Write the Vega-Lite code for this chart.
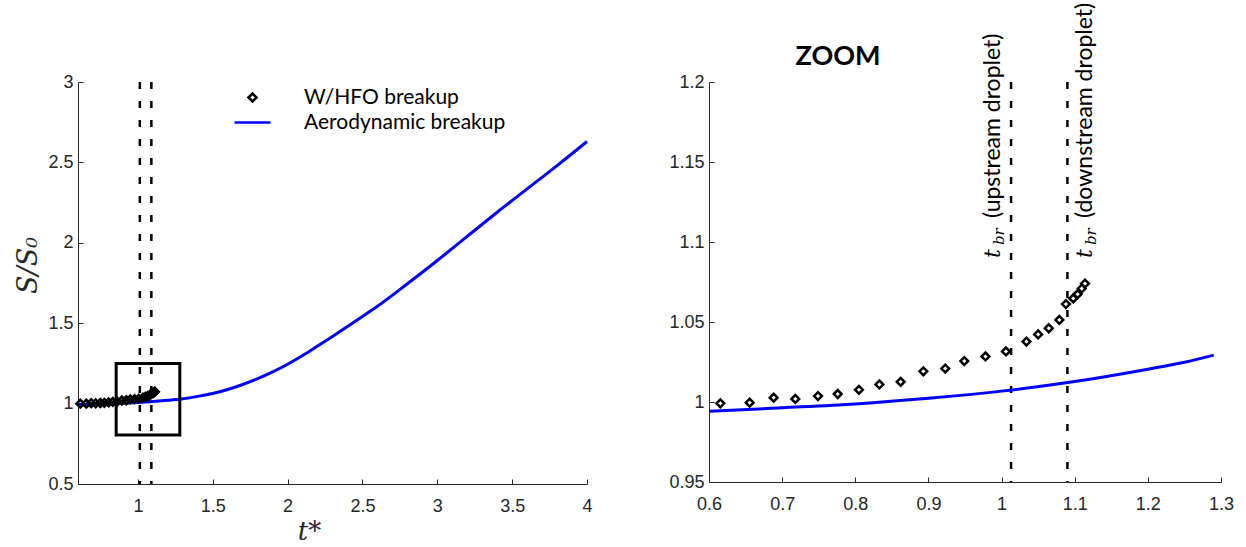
{
  "$schema": "https://vega.github.io/schema/vega-lite/v6.json",
  "autosize": {"type": "pad"},
  "padding": {"left": 14, "top": 2, "right": 0, "bottom": 0},
  "bounds": "flush",
  "spacing": 122,
  "background": "white",
  "config": {
    "view": {"stroke": null},
    "axis": {
      "grid": false,
      "domainColor": "#262626",
      "domainWidth": 1,
      "tickColor": "#262626",
      "tickWidth": 1,
      "tickSize": -5,
      "labelFont": "Liberation Sans",
      "labelFontSize": 18,
      "labelColor": "#262626",
      "labelFlush": false,
      "labelOverlap": false
    },
    "axisX": {"labelPadding": 18},
    "axisY": {"labelPadding": 10}
  },
  "datasets": {
    "aero": [
      {"t": 0.6, "s": 0.9942, "series": "Aerodynamic breakup"},
      {"t": 0.7, "s": 0.9964, "series": "Aerodynamic breakup"},
      {"t": 0.8, "s": 0.9988, "series": "Aerodynamic breakup"},
      {"t": 0.9, "s": 1.0023, "series": "Aerodynamic breakup"},
      {"t": 1.0, "s": 1.0068, "series": "Aerodynamic breakup"},
      {"t": 1.1, "s": 1.0128, "series": "Aerodynamic breakup"},
      {"t": 1.2, "s": 1.0205, "series": "Aerodynamic breakup"},
      {"t": 1.25, "s": 1.0248, "series": "Aerodynamic breakup"},
      {"t": 1.29, "s": 1.0293, "series": "Aerodynamic breakup"},
      {"t": 1.4, "s": 1.045, "series": "Aerodynamic breakup"},
      {"t": 1.5, "s": 1.063, "series": "Aerodynamic breakup"},
      {"t": 1.6, "s": 1.088, "series": "Aerodynamic breakup"},
      {"t": 1.7, "s": 1.119, "series": "Aerodynamic breakup"},
      {"t": 1.8, "s": 1.155, "series": "Aerodynamic breakup"},
      {"t": 1.9, "s": 1.197, "series": "Aerodynamic breakup"},
      {"t": 2.0, "s": 1.245, "series": "Aerodynamic breakup"},
      {"t": 2.1, "s": 1.299, "series": "Aerodynamic breakup"},
      {"t": 2.2, "s": 1.358, "series": "Aerodynamic breakup"},
      {"t": 2.3, "s": 1.418, "series": "Aerodynamic breakup"},
      {"t": 2.4, "s": 1.48, "series": "Aerodynamic breakup"},
      {"t": 2.5, "s": 1.542, "series": "Aerodynamic breakup"},
      {"t": 2.6, "s": 1.605, "series": "Aerodynamic breakup"},
      {"t": 2.8, "s": 1.745, "series": "Aerodynamic breakup"},
      {"t": 3.0, "s": 1.89, "series": "Aerodynamic breakup"},
      {"t": 3.2, "s": 2.04, "series": "Aerodynamic breakup"},
      {"t": 3.4, "s": 2.19, "series": "Aerodynamic breakup"},
      {"t": 3.6, "s": 2.335, "series": "Aerodynamic breakup"},
      {"t": 3.8, "s": 2.48, "series": "Aerodynamic breakup"},
      {"t": 4.0, "s": 2.63, "series": "Aerodynamic breakup"}
    ],
    "hfo": [
      {"t": 0.6155, "s": 0.9992, "series": "W/HFO breakup"},
      {"t": 0.6556, "s": 0.9996, "series": "W/HFO breakup"},
      {"t": 0.6884, "s": 1.0027, "series": "W/HFO breakup"},
      {"t": 0.718, "s": 1.0019, "series": "W/HFO breakup"},
      {"t": 0.749, "s": 1.0037, "series": "W/HFO breakup"},
      {"t": 0.776, "s": 1.005, "series": "W/HFO breakup"},
      {"t": 0.805, "s": 1.0076, "series": "W/HFO breakup"},
      {"t": 0.833, "s": 1.011, "series": "W/HFO breakup"},
      {"t": 0.862, "s": 1.0126, "series": "W/HFO breakup"},
      {"t": 0.893, "s": 1.0192, "series": "W/HFO breakup"},
      {"t": 0.923, "s": 1.0209, "series": "W/HFO breakup"},
      {"t": 0.949, "s": 1.0256, "series": "W/HFO breakup"},
      {"t": 0.978, "s": 1.0285, "series": "W/HFO breakup"},
      {"t": 1.006, "s": 1.0316, "series": "W/HFO breakup"},
      {"t": 1.034, "s": 1.0378, "series": "W/HFO breakup"},
      {"t": 1.05, "s": 1.0422, "series": "W/HFO breakup"},
      {"t": 1.0645, "s": 1.0461, "series": "W/HFO breakup"},
      {"t": 1.079, "s": 1.0513, "series": "W/HFO breakup"},
      {"t": 1.088, "s": 1.0612, "series": "W/HFO breakup"},
      {"t": 1.098, "s": 1.0647, "series": "W/HFO breakup"},
      {"t": 1.104, "s": 1.0674, "series": "W/HFO breakup"},
      {"t": 1.1096, "s": 1.0709, "series": "W/HFO breakup"},
      {"t": 1.114, "s": 1.074, "series": "W/HFO breakup"}
    ],
    "brk": [
      {"t": 1.013, "label": "(upstream droplet)", "side": "up"},
      {"t": 1.09, "label": "(downstream droplet)", "side": "down"}
    ]
  },
  "hconcat": [
    {
      "width": 509,
      "height": 402,
      "layer": [
        {
          "data": {"name": "brk"},
          "mark": {"type": "rule", "color": "black", "strokeWidth": 2.5, "strokeDash": [7, 12]},
          "encoding": {
            "x": {"field": "t", "type": "quantitative", "scale": {"domain": [0.6, 4], "nice": false, "zero": false}}
          }
        },
        {
          "data": {"name": "aero"},
          "mark": {"type": "line", "strokeWidth": 3, "interpolate": "monotone"},
          "encoding": {
            "x": {"field": "t", "type": "quantitative", "scale": {"domain": [0.6, 4], "nice": false, "zero": false},
              "axis": {"values": [1, 1.5, 2, 2.5, 3, 3.5, 4], "format": ".1~f", "title": "t*", "titleFont": "DejaVu Serif", "titleFontStyle": "italic", "titleFontWeight": "normal", "titleFontSize": 26, "titleColor": "#262626", "titleX": 231, "titleY": 47, "titleBaseline": "middle"}},
            "y": {"field": "s", "type": "quantitative", "scale": {"domain": [0.5, 3], "nice": false, "zero": false},
              "axis": {"values": [0.5, 1, 1.5, 2, 2.5, 3], "format": ".1~f", "title": "S/S₀", "titleFont": "DejaVu Serif", "titleFontStyle": "italic", "titleFontWeight": "normal", "titleFontSize": 27, "titleColor": "#262626", "titleX": -50, "titleY": 183, "titleBaseline": "middle", "titleAngle": 270}},
            "color": {"field": "series", "type": "nominal",
              "scale": {"domain": ["W/HFO breakup", "Aerodynamic breakup"], "range": ["black", "#0000ff"]},
              "legend": {"title": null, "orient": "none", "legendX": 164, "legendY": 5, "labelFont": "Lato", "labelFontSize": 21, "labelColor": "black", "labelOffset": 41, "labelLimit": 400, "rowPadding": 3, "symbolSize": 64, "symbolStrokeWidth": 2.5, "padding": 0,
                "symbolFillColor": "transparent"}}
          }
        },
        {
          "data": {"name": "hfo"},
          "mark": {"type": "point", "filled": false, "strokeWidth": 2.5, "size": 60, "opacity": 1},
          "encoding": {
            "x": {"field": "t", "type": "quantitative"},
            "y": {"field": "s", "type": "quantitative"},
            "color": {"field": "series", "type": "nominal"},
            "shape": {"field": "series", "type": "nominal",
              "scale": {"domain": ["W/HFO breakup", "Aerodynamic breakup"], "range": ["diamond", "M-4.5,0H4.5"]},
              "legend": {"title": null, "orient": "none", "legendX": 164, "legendY": 5, "labelFont": "Lato", "labelFontSize": 21, "labelColor": "black", "labelOffset": 41, "labelLimit": 400, "rowPadding": 3, "symbolSize": 64, "symbolStrokeWidth": 2.5, "padding": 0, "symbolFillColor": "transparent"}}
          }
        },
        {
          "data": {"values": [{}]},
          "mark": {"type": "rect", "fill": null, "fillOpacity": 0, "stroke": "black", "strokeWidth": 3},
          "encoding": {
            "x": {"datum": 0.855, "type": "quantitative"},
            "x2": {"datum": 1.28},
            "y": {"datum": 0.805, "type": "quantitative"},
            "y2": {"datum": 1.25}
          }
        }
      ]
    },
    {
      "width": 512,
      "height": 400,
      "title": {"text": "ZOOM", "font": "Lato", "fontWeight": "bold", "fontSize": 27, "color": "black", "anchor": "middle", "frame": "group", "dx": -127, "offset": -68},
      "layer": [
        {
          "data": {"name": "brk"},
          "mark": {"type": "rule", "color": "black", "strokeWidth": 2.5, "strokeDash": [7, 12]},
          "encoding": {
            "x": {"field": "t", "type": "quantitative", "scale": {"domain": [0.6, 1.3], "nice": false, "zero": false}}
          }
        },
        {
          "data": {"name": "aero"},
          "transform": [{"filter": "datum.t <= 1.295"}],
          "mark": {"type": "line", "strokeWidth": 3, "color": "#0000ff", "clip": true, "interpolate": "monotone"},
          "encoding": {
            "x": {"field": "t", "type": "quantitative", "scale": {"domain": [0.6, 1.3], "nice": false, "zero": false},
              "axis": {"values": [0.6, 0.7, 0.8, 0.9, 1, 1.1, 1.2, 1.3], "format": ".1~f", "title": null}},
            "y": {"field": "s", "type": "quantitative", "scale": {"domain": [0.95, 1.2], "nice": false, "zero": false},
              "axis": {"values": [0.95, 1, 1.05, 1.1, 1.15, 1.2], "format": ".2~f", "title": null}}
          }
        },
        {
          "data": {"name": "hfo"},
          "mark": {"type": "point", "shape": "diamond", "filled": false, "color": "black", "strokeWidth": 2.5, "size": 60, "opacity": 1},
          "encoding": {
            "x": {"field": "t", "type": "quantitative"},
            "y": {"field": "s", "type": "quantitative"}
          }
        },
        {
          "data": {"name": "brk"},
          "transform": [{"filter": "datum.side == 'up'"}],
          "mark": {"type": "text", "angle": 270, "align": "left", "baseline": "middle", "font": "DejaVu Serif", "fontStyle": "italic", "fontSize": 22, "color": "black", "dx": 0, "dy": -18},
          "encoding": {"x": {"field": "t", "type": "quantitative"}, "y": {"datum": 1.09, "type": "quantitative"}, "text": {"value": "t"}}
        },
        {
          "data": {"name": "brk"},
          "transform": [{"filter": "datum.side == 'up'"}],
          "mark": {"type": "text", "angle": 270, "align": "left", "baseline": "middle", "font": "DejaVu Serif", "fontStyle": "italic", "fontSize": 15, "color": "black", "dx": 13, "dy": -12},
          "encoding": {"x": {"field": "t", "type": "quantitative"}, "y": {"datum": 1.09, "type": "quantitative"}, "text": {"value": "br"}}
        },
        {
          "data": {"name": "brk"},
          "transform": [{"filter": "datum.side == 'up'"}],
          "mark": {"type": "text", "angle": 270, "align": "left", "baseline": "middle", "font": "Lato", "fontSize": 23, "color": "black", "dx": 40, "dy": -18},
          "encoding": {"x": {"field": "t", "type": "quantitative"}, "y": {"datum": 1.09, "type": "quantitative"}, "text": {"field": "label"}}
        },
        {
          "data": {"name": "brk"},
          "transform": [{"filter": "datum.side == 'down'"}],
          "mark": {"type": "text", "angle": 270, "align": "left", "baseline": "middle", "font": "DejaVu Serif", "fontStyle": "italic", "fontSize": 22, "color": "black", "dx": 0, "dy": 18},
          "encoding": {"x": {"field": "t", "type": "quantitative"}, "y": {"datum": 1.09, "type": "quantitative"}, "text": {"value": "t"}}
        },
        {
          "data": {"name": "brk"},
          "transform": [{"filter": "datum.side == 'down'"}],
          "mark": {"type": "text", "angle": 270, "align": "left", "baseline": "middle", "font": "DejaVu Serif", "fontStyle": "italic", "fontSize": 15, "color": "black", "dx": 13, "dy": 24},
          "encoding": {"x": {"field": "t", "type": "quantitative"}, "y": {"datum": 1.09, "type": "quantitative"}, "text": {"value": "br"}}
        },
        {
          "data": {"name": "brk"},
          "transform": [{"filter": "datum.side == 'down'"}],
          "mark": {"type": "text", "angle": 270, "align": "left", "baseline": "middle", "font": "Lato", "fontSize": 23, "color": "black", "dx": 40, "dy": 18},
          "encoding": {"x": {"field": "t", "type": "quantitative"}, "y": {"datum": 1.09, "type": "quantitative"}, "text": {"field": "label"}}
        }
      ]
    }
  ]
}
